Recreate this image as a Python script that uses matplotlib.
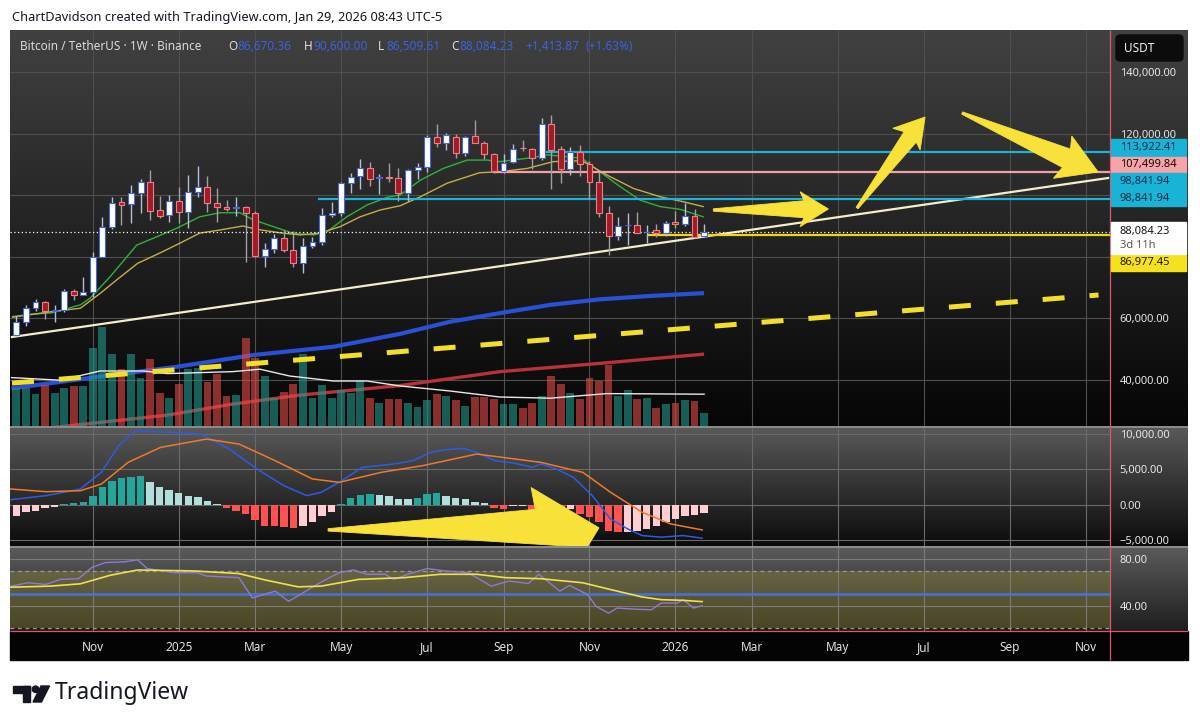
import numpy as np
import matplotlib
matplotlib.use("Agg")
import matplotlib.pyplot as plt
from matplotlib.colors import LinearSegmentedColormap
from matplotlib.patches import Polygon, Rectangle, FancyBboxPatch, Circle
from matplotlib.ticker import FuncFormatter

plt.rcParams['font.family'] = ['Noto Sans', 'DejaVu Sans']

# ============================ DATA ==================================
# Weekly BTC/USDT candles (Binance); week 0 = 2024-09-09 ... week 72 = 2026-01-26 (thousand USDT)
open_k = [54.6, 58.9, 63.5, 65.4, 62.5, 62.6, 69.0, 67.6, 68.7, 80.0,
          89.6, 97.8, 97.1, 100.6, 104.2, 95.2, 93.6, 98.2, 94.4, 101.1,
          102.6, 97.6, 96.1, 95.8, 96.3, 94.3, 80.3, 82.4, 86.0, 82.2,
          78.1, 83.5, 84.9, 93.7, 94.1, 103.9, 106.2, 108.7, 105.5, 105.9,
          105.5, 100.8, 108.2, 109.1, 118.8, 117.0, 119.0, 113.8, 119.2, 117.0,
          113.4, 107.9, 110.9, 115.4, 114.9, 112.0, 123.1, 114.9, 108.4, 114.1,
          110.1, 104.4, 94.1, 86.8, 90.2, 90.3, 88.0, 88.7, 87.8, 91.4,
          90.6, 93.2, 86.67036]
high_k = [60.7, 64.4, 66.2, 65.7, 64.4, 69.5, 69.5, 73.5, 81.5, 93.0,
          99.3, 99.3, 103.3, 105.3, 108.2, 99.7, 100.2, 102.8, 106.6, 109.5,
          106.3, 102.2, 98.4, 99.5, 96.5, 95.0, 84.5, 87.5, 88.7, 88.5,
          86.1, 86.5, 95.7, 97.9, 104.3, 107.1, 111.9, 110.7, 106.8, 110.5,
          108.9, 108.5, 110.4, 119.5, 123.2, 120.2, 119.8, 119.3, 124.5, 117.6,
          113.6, 113.4, 116.7, 117.9, 115.2, 125.0, 126.2, 115.9, 115.5, 116.4,
          111.2, 107.5, 96.6, 93.0, 94.1, 94.6, 90.4, 90.6, 91.5, 94.8,
          97.6, 95.5, 90.6]
low_k = [54.2, 57.5, 62.5, 59.7, 58.9, 62.2, 65.9, 67.5, 66.8, 79.8,
         89.0, 90.3, 91.0, 94.1, 92.0, 92.5, 91.4, 90.9, 89.3, 99.5,
         94.6, 91.4, 94.8, 93.3, 78.2, 80.0, 76.6, 81.2, 81.6, 76.8,
         74.6, 83.0, 83.9, 92.8, 93.4, 100.7, 102.0, 103.1, 100.4, 104.2,
         98.2, 98.0, 105.2, 107.5, 115.7, 114.7, 112.0, 112.6, 116.8, 111.7,
         107.3, 107.3, 110.6, 114.4, 108.6, 111.5, 101.9, 103.9, 106.7, 106.3,
         98.9, 93.0, 80.6, 85.3, 83.8, 87.6, 84.4, 86.4, 86.9, 89.3,
         89.9, 86.0, 86.50961]
close_k = [58.9, 63.5, 65.4, 62.5, 62.6, 68.9, 67.6, 68.7, 80.0, 89.6,
           97.6, 96.8, 100.6, 104.4, 95.0, 93.3, 98.2, 94.6, 101.1, 102.6,
           97.6, 96.1, 95.5, 96.2, 94.1, 80.3, 82.4, 86.0, 82.2, 77.9,
           83.5, 84.9, 93.6, 94.1, 103.9, 106.0, 108.7, 105.2, 105.8, 105.6,
           100.6, 108.2, 109.1, 118.8, 117.0, 119.4, 113.8, 119.0, 117.0, 113.3,
           107.9, 110.6, 114.9, 115.3, 112.0, 123.1, 114.7, 108.4, 114.1, 110.1,
           104.4, 94.1, 86.8, 90.0, 90.4, 87.8, 88.2, 87.8, 91.1, 90.6,
           93.2, 86.5, 88.08423]
# weekly volume (thousand BTC)
volume_k = [192, 189, 159, 204, 165, 192, 200, 200, 389, 495,
            362, 284, 359, 242, 335, 167, 139, 209, 284, 289,
            222, 259, 150, 155, 442, 339, 250, 142, 170, 212,
            359, 142, 205, 139, 179, 167, 229, 142, 115, 137,
            137, 117, 95, 130, 159, 150, 130, 100, 145, 145,
            137, 112, 112, 92, 117, 150, 250, 209, 167, 134,
            239, 225, 305, 150, 182, 134, 142, 92, 109, 115,
            130, 125, 67]

# moving averages on price (week index, thousand USDT)
ema_fast_x = [-0.4, 1.7, 3.7, 6.7, 7.7, 9.8, 12.6, 14.7, 16.8, 19.2, 21.3, 23.4, 24.8, 26.9, 29.0,
              31.1, 32.5, 34.6, 36.7, 38.8, 40.2, 42.3, 44.7, 47.2, 49.3, 50.6, 53.5, 55.6, 59.2,
              61.1, 63.2, 65.3, 67.4, 69.5, 71.9]
ema_fast_k = [60.6, 61.4, 61.8, 64.4, 66.5, 73.5, 83.8, 86.5, 89.3, 93.0, 94.3, 94.3, 92.0, 89.8, 87.6,
              87.1, 88.1, 93.0, 96.8, 99.3, 100.1, 104.9, 108.7, 111.4, 111.4, 110.9, 112.0, 113.1, 112.0,
              107.6, 102.8, 98.4, 96.3, 95.4, 93.0]
ema_slow_x = [-0.4, 3.7, 6.7, 8.8, 10.5, 12.7, 15.0, 17.1, 19.2, 21.3, 23.7, 25.2, 27.6, 29.7, 31.8,
              33.9, 36.0, 38.1, 40.2, 42.3, 45.1, 48.5, 50.6, 53.5, 56.2, 59.2, 61.8, 64.6, 67.4, 69.8, 71.9]
ema_slow_k = [60.4, 62.2, 63.3, 68.2, 72.5, 77.9, 81.2, 84.4, 87.7, 88.7, 90.0, 88.9, 87.8, 87.1, 87.7,
              89.8, 93.0, 95.2, 96.6, 99.5, 103.9, 107.3, 107.6, 108.7, 110.9, 111.2, 106.6, 102.2, 99.5, 97.9, 96.3]
ma_blue_x = [-0.5, 8.75, 16.8, 24.8, 33.2, 40.2, 45.4, 50.6, 55.9, 61.1, 66.4, 72.0]
ma_blue_k = [37.3, 41.1, 44.3, 48.1, 50.8, 55.0, 58.9, 61.7, 64.4, 66.2, 67.3, 68.2]
ma_red_x = [-0.7, 6.3, 15.8, 22.7, 29.7, 40.2, 50.6, 61.1, 72.0]
ma_red_k = [23.0, 25.4, 28.6, 32.2, 35.1, 38.2, 42.7, 45.4, 48.4]
vol_ma_x = [-0.5, 4.6, 8.75, 13.3, 15.8, 22.7, 25.5, 28.6, 33.2, 36.7, 40.2, 45.4, 50.6, 55.9, 61.8, 72.0]
vol_ma_k = [242, 229, 275, 275, 262, 272, 284, 250, 225, 225, 200, 175, 145, 139, 162, 159]

# drawings: trend lines (week index, USDT) and horizontal rays
trend_cream = [(-0.46, 53960), (114.3, 105580)]
trend_yellow_dash = [(-0.46, 39000), (113.3, 67600)]
ray_levels = [113922.41, 107499.84, 98841.94, 86977.45]
ray_start = [55.1, 49.9, 31.6, 66.0]
ray_colors = ['#1ab4d6', '#f4a0a7', '#1ab4d6', '#f2d41c']

# MACD (week index, value)
macd_x = [-0.6, 3.1, 6.7, 8.9, 10.7, 12.4, 16.5, 19.4, 22.3, 25.2, 28.0, 30.4, 31.9, 33.8, 36.2, 39.5, 41.5,
          43.4, 44.9, 46.8, 48.2, 50.1, 52.1, 54.0, 54.9, 56.4, 58.3, 60.3, 62.2, 64.0, 65.5, 67.5, 69.8, 71.8]
macd_v = [704, 1267, 2210, 4560, 8300, 10420, 10190, 9950, 7840, 5030, 2680, 1270, 1740, 3150, 5260, 5730, 6200,
          7370, 7740, 7940, 7370, 6200, 5870, 5260, 5730, 5120, 3860, 1270, -2010, -3420, -4360, -4590, -4360, -4730]
signal_x = [-0.6, 3.1, 6.7, 8.9, 11.7, 15.1, 19.9, 23.3, 27.1, 31.0, 33.8, 38.2, 42.5, 48.2, 54.9, 59.3,
            62.2, 65.5, 68.5, 71.8]
signal_v = [2210, 1830, 1970, 2910, 5970, 8080, 9250, 8550, 6200, 3620, 3150, 4560, 5490, 7140, 5970, 4560,
            1750, -1070, -2720, -3560]
hist_v = [-1550, -1080, -840, -520, -375, 100, 230, 330, 1270, 2440,
          3380, 3700, 3850, 4000, 3240, 2440, 2060, 1640, 1170, 1030,
          560, 120, -520, -840, -1310, -2200, -2950, -3000, -3100, -3280,
          -2950, -2480, -1640, -1080, 150, 940, 1360, 1500, 1360, 1170,
          800, 780, 900, 1500, 1640, 1170, 1000, 800, 420, 230,
          -500, -600, -230, -200, -1000, -375, -600, -1000, -600, -1300,
          -1780, -2480, -3660, -3890, -3800, -3660, -3420, -2950, -2480, -2020,
          -1550, -1450, -1170]

# RSI (week index, value)
rsi_x = [-0.6, 1.2, 3.1, 4.6, 6.5, 7.9, 9.3, 11.3, 12.7, 13.7, 16.5, 18.9, 19.9, 23.3, 24.7, 27.1, 28.5,
         30.0, 31.9, 33.8, 35.3, 36.7, 38.6, 39.5, 41.0, 43.0, 44.9, 47.3, 49.7, 51.6, 53.6, 54.7, 56.9,
         57.9, 59.8, 60.7, 62.0, 62.9, 64.6, 66.5, 67.5, 69.2, 69.8, 70.9, 71.8]
rsi_v = [56.8, 59.7, 58.3, 62.6, 63.2, 72.8, 77.1, 77.7, 79.4, 71.9, 68.4, 68.4, 65.5, 64.1, 46.7, 52.5, 43.8,
         51.0, 60.3, 68.4, 70.7, 67.0, 67.0, 62.6, 67.0, 71.9, 69.9, 68.4, 56.8, 61.2, 59.1, 67.0, 52.5,
         57.4, 49.6, 39.4, 33.6, 38.0, 37.1, 36.5, 42.3, 42.3, 45.2, 38.0, 40.0]
rsi_ma_x = [-0.6, 3.5, 6.7, 9.8, 12.7, 18.5, 23.3, 26.1, 29.5, 31.9, 35.8, 40.6, 44.4, 48.2, 51.2, 54.9,
            59.3, 62.2, 65.5, 67.5, 69.8, 71.8]
rsi_ma_v = [55.9, 56.8, 58.8, 66.1, 70.7, 69.9, 67.6, 62.0, 56.2, 56.8, 62.6, 64.1, 67.0, 67.0, 64.1, 63.2,
            59.7, 53.9, 47.5, 45.2, 44.6, 43.5]
rsi_levels = [70, 50, 21]

# x-axis ticks (week index of first bar of month)
tick_idx = [8, 17, 25, 34, 43, 51, 60, 69, 77, 86, 95, 104, 112]
tick_labels = ['Nov', '2025', 'Mar', 'May', 'Jul', 'Sep', 'Nov', '2026', 'Mar', 'May', 'Jul', 'Sep', 'Nov']
price_ticks = [40000, 60000, 80000, 100000, 120000, 140000]
price_tick_labels = ['40,000.00', '60,000.00', '', '', '120,000.00', '140,000.00']  # 80k/100k hidden by tags
macd_ticks = [-5000, 0, 5000, 10000]
rsi_ticks = [40, 80]

# hand-drawn arrows (week index, value): tail, tip, two barb points, shaft half width (px)
arrows_price = [
    ((72.97, 95195), (85.02, 95519), ((82.05, 101136), (82.05, 89773)), 8.5),
    ((88.02, 95844), (95.14, 125390), ((91.76, 121721), (94.62, 114675)), 8.0),
    ((99.02, 126688), (113.26, 107532), ((110.5, 119221), (108.58, 105487)), 10.0),
]
arrow_macd = ((32.63, -3556), (61.0, -3272), ((53.89, 2418), (58.8, -8108)), 19.0)

# ============================ FIGURE ================================
W, H = 1200, 728
fig = plt.figure(figsize=(12, 7.28), dpi=100, facecolor='white')

XMIN, XMAX = -0.67, 114.5
PMIN, PMAX = 25065, 153636


def px_rect(x0, y0, x1, y1):
    return [x0 / W, 1 - y1 / H, (x1 - x0) / W, (y1 - y0) / H]


bg = fig.add_axes([0, 0, 1, 1])
bg.axis('off')


def vgrad(y0, y1, c0, c1, x0=10, x1=1188):
    cmap = LinearSegmentedColormap.from_list('g', [c0, c1])
    bg.imshow(np.linspace(0, 1, 256).reshape(-1, 1), cmap=cmap, aspect='auto',
              extent=(x0, x1, y1, y0), interpolation='bilinear', zorder=0)


vgrad(30, 426, '#414141', '#060606')
vgrad(426, 546, '#5a5a5a', '#0b0b0b')
vgrad(546, 631, '#5c5c5c', '#1e1e1e')
bg.add_patch(Rectangle((10, 631), 1178, 29, color='#040404', zorder=1))
bg.set_xlim(0, W)
bg.set_ylim(H, 0)

GRID = '#4f4f4f'
LBL = '#e6e6e6'


def style_axes(a):
    a.set_facecolor('none')
    for s in a.spines.values():
        s.set_visible(False)


weeks = np.arange(len(open_k))
o = np.array(open_k) * 1000
h = np.array(high_k) * 1000
l = np.array(low_k) * 1000
c = np.array(close_k) * 1000
up = c >= o

# ---------------- main price panel ----------------
ax = fig.add_axes(px_rect(10, 30, 1110, 426))
style_axes(ax)
ax.set_xlim(XMIN, XMAX)
ax.set_ylim(PMIN, PMAX)
ax.yaxis.tick_right()
ax.set_yticks(price_ticks)
ax.set_yticklabels(price_tick_labels)
ax.tick_params(axis='y', length=0, pad=7, labelsize=8, labelcolor=LBL)
ax.set_xticks(tick_idx)
ax.tick_params(axis='x', length=0, labelbottom=False)
ax.grid(True, color=GRID, lw=0.8)
ax.set_axisbelow(True)
ax.plot(ma_blue_x, np.array(ma_blue_k) * 1000, color='#2b4fd6', lw=3.0, solid_capstyle='butt', zorder=2)
ax.plot(ma_red_x, np.array(ma_red_k) * 1000, color='#b7323c', lw=2.4, solid_capstyle='butt', zorder=2)

# volume overlay
axv = fig.add_axes(px_rect(10, 30, 1110, 426), sharex=ax)
style_axes(axv)
axv.set_ylim(0, 396 * 5)
axv.axis('off')
axv.bar(weeks, volume_k, width=0.82, color=np.where(up, '#23978b', '#e04b48'), alpha=0.6, lw=0)
axv.plot(vol_ma_x, vol_ma_k, color='#e8e8e8', lw=1.0)

# drawings + candles
axt = fig.add_axes(px_rect(10, 30, 1110, 426), sharex=ax)
style_axes(axt)
axt.axis('off')
axt.set_xlim(XMIN, XMAX)
axt.set_ylim(PMIN, PMAX)
(tx0, ty0), (tx1, ty1) = trend_yellow_dash
axt.plot([tx0, tx1], [ty0, ty1], color='#f2df2b', lw=3.6, dashes=(4.4, 5.0), solid_capstyle='butt', zorder=2)
(tx0, ty0), (tx1, ty1) = trend_cream
axt.plot([tx0, tx1], [ty0, ty1], color='#f4edcb', lw=1.6, zorder=3)
axt.plot(ema_fast_x, np.array(ema_fast_k) * 1000, color='#33b03a', lw=1.0, zorder=3)
axt.plot(ema_slow_x, np.array(ema_slow_k) * 1000, color='#c5ae4a', lw=1.0, zorder=3)
for lev, st, col in zip(ray_levels, ray_start, ray_colors):
    axt.hlines(lev, st, XMAX, color=col, lw=1.6, zorder=3)
axt.axhline(c[-1], color='white', lw=0.9, ls=(0, (1, 2)), zorder=3)
axt.vlines(weeks, l, h, colors=np.where(up, '#b3bedb', '#a0a0a0'), lw=1.0, zorder=4)
body_lo = np.minimum(o, c)
body_h = np.maximum(np.abs(c - o), 150)
axt.bar(weeks, body_h, bottom=body_lo, width=0.62, color=np.where(up, '#ffffff', '#9e1c28'),
        edgecolor=np.where(up, '#4369d8', '#f07c84'), linewidth=0.8, zorder=5)


def draw_arrow(a, tail, tip, barbs, hw, color='#f8e23a'):
    T = a.transData
    pt, pp = T.transform(tail), T.transform(tip)
    b1, b2 = T.transform(barbs[0]), T.transform(barbs[1])
    d = pp - pt
    u = d / np.hypot(*d)
    n = np.array([-u[1], u[0]])
    if np.dot(b1 - pt, n) < 0:
        b1, b2 = b2, b1
    s1 = np.dot(b1 - pt, u) + 4
    s2 = np.dot(b2 - pt, u) + 4
    pts = np.array([pt + n * 1.2, pt + u * s1 + n * hw, b1, pp, b2, pt + u * s2 - n * hw, pt - n * 1.2])
    a.add_patch(Polygon(T.inverted().transform(pts), closed=True, fc=color, ec=color, lw=0.6, zorder=8))


for tail, tip, barbs, hw in arrows_price:
    draw_arrow(axt, tail, tip, barbs, hw)

# ---------------- MACD panel ----------------
axm = fig.add_axes(px_rect(10, 426, 1110, 546), sharex=ax)
style_axes(axm)
axm.set_ylim(-5832, 11095)
axm.yaxis.tick_right()
axm.set_yticks(macd_ticks)
axm.yaxis.set_major_formatter(FuncFormatter(lambda v, p: f'{v:,.2f}'.replace('-', '\u2212')))
axm.tick_params(axis='y', length=0, pad=7, labelsize=8, labelcolor=LBL)
axm.tick_params(axis='x', length=0, labelbottom=False)
axm.grid(True, color='#6a6a6a', lw=0.8)
axm.set_axisbelow(True)
hist = np.array(hist_v)
prev = np.concatenate([[hist[0] - 1], hist[:-1]])
hcol = np.where(hist >= 0, np.where(hist > prev, '#26a69a', '#b2dfdb'),
                np.where(hist < prev, '#ff5252', '#ffcdd2'))
axm.bar(weeks, hist, width=0.78, color=hcol, lw=0, zorder=2)
axm.plot(macd_x, macd_v, color='#2e5ce0', lw=1.1, zorder=3)
axm.plot(signal_x, signal_v, color='#f07a2a', lw=1.1, zorder=3)
tail, tip, barbs, hw = arrow_macd
draw_arrow(axm, tail, tip, barbs, hw)

# ---------------- RSI panel ----------------
axr = fig.add_axes(px_rect(10, 546, 1110, 631), sharex=ax)
style_axes(axr)
axr.set_ylim(18.26, 91.3)
axr.yaxis.tick_right()
axr.set_yticks(rsi_ticks)
axr.yaxis.set_major_formatter(FuncFormatter(lambda v, p: f'{v:.2f}'))
axr.tick_params(axis='y', length=0, pad=7, labelsize=8, labelcolor=LBL)
axr.grid(True, color='#7a7a7a', lw=0.8)
axr.set_axisbelow(True)
axr.axhspan(rsi_levels[2], rsi_levels[0], color='#a8a030', alpha=0.3, lw=0, zorder=0)
axr.axhline(rsi_levels[0], color='#9a9a9a', lw=0.9, ls=(0, (3, 3)))
axr.axhline(rsi_levels[2], color='#9a9a9a', lw=0.9, ls=(0, (3, 3)))
axr.axhline(rsi_levels[1], color='#4a6fd0', lw=2.0)
axr.plot(rsi_x, rsi_v, color='#8b7ad8', lw=1.0, zorder=3)
axr.plot(rsi_ma_x, rsi_ma_v, color='#ede052', lw=1.2, zorder=3)
axr.set_xticks(tick_idx)
axr.set_xticklabels(tick_labels)
axr.tick_params(axis='x', length=0, pad=7, labelsize=8.5, labelcolor='#e2e2e2')
for t in axr.get_xticklabels():
    if t.get_text().isdigit():
        t.set_fontweight('bold')
axr.set_xlim(XMIN, XMAX)

# ---------------- overlay: frame, labels, header ----------------
ov = fig.add_axes([0, 0, 1, 1])
ov.axis('off')
ov.set_xlim(0, W)
ov.set_ylim(H, 0)
ov.hlines([426.5, 546.5], 10, 1188, color='#9a9a9a', lw=1.1)
ov.vlines(1110, 30, 660, color='#e0566c', lw=0.9)
ov.hlines(631, 10, 1188, color='#e0566c', lw=0.9)

# price label boxes (stacked on the price scale)
boxes = [(ray_levels[0], 147.5, '#19b3d6', '#0b2a4a'),
         (ray_levels[1], 165.0, '#f7a3aa', '#1c0a0a'),
         (ray_levels[2], 181.5, '#19b3d6', '#0b2a4a'),
         (ray_levels[2], 198.0, '#19b3d6', '#0b2a4a'),
         (ray_levels[3], 263.0, '#f7e11d', '#1a1a00')]
for val, yc, bgc, fgc in boxes:
    ov.add_patch(Rectangle((1110.5, yc - 8.3), 75, 16.6, color=bgc, zorder=5))
    ov.text(1120, yc, f'{val:,.2f}', color=fgc, fontsize=8, va='center', ha='left', zorder=6)
ov.add_patch(Rectangle((1110.5, 222), 75, 32, color='#ffffff', zorder=5))
ov.text(1120, 231.5, f'{c[-1]:,.2f}', color='#131722', fontsize=8, va='center', zorder=6)
ov.text(1120, 245.5, '3d 11h', color='#555555', fontsize=8, va='center', zorder=6)

ov.add_patch(FancyBboxPatch((1116, 35), 67, 26, boxstyle='round,pad=0,rounding_size=4',
                            fc='#0c0c0c', ec='#0c0c0c', zorder=5))
ov.text(1124, 48, 'USDT', color='#f0f0f0', fontsize=8.5, va='center', zorder=6)

# header legend
blue = '#3a63dc'
chg = c[-1] - o[-1]
header = [(20, 'Bitcoin / TetherUS \u00b7 1W \u00b7 Binance', '#dcdcdc'),
          (228, 'O', '#dcdcdc'), (237, f'{o[-1]:,.2f}', blue),
          (304, 'H', '#dcdcdc'), (313, f'{h[-1]:,.2f}', blue),
          (378, 'L', '#dcdcdc'), (386, f'{l[-1]:,.2f}', blue),
          (451, 'C', '#dcdcdc'), (459, f'{c[-1]:,.2f}', blue),
          (525, f'{chg:+,.2f}', blue), (586, f'({chg / o[-1] * 100:+.2f}%)', blue)]
for x, s, col in header:
    ov.text(x, 47, s, color=col, fontsize=8.5, va='center', ha='left')

ov.text(12, 17, 'ChartDavidson created with TradingView.com, Jan 29, 2026 08:43 UTC-5',
        color='#131722', fontsize=9.2, va='center', ha='left')

# TradingView logo
ov.add_patch(Rectangle((13, 686), 17, 6.5, color='#131722'))
ov.add_patch(Rectangle((23, 686), 7, 16, color='#131722'))
ov.add_patch(Circle((35.5, 689.2), 3.2, color='#131722'))
ov.add_patch(Polygon([(41, 686), (49.5, 686), (41.5, 702), (33, 702)], closed=True, color='#131722'))
ov.text(55, 693, 'TradingView', color='#131722', fontsize=16.5, fontweight='bold', va='center', ha='left')

fig.savefig('out.png', dpi=100, facecolor='white')
